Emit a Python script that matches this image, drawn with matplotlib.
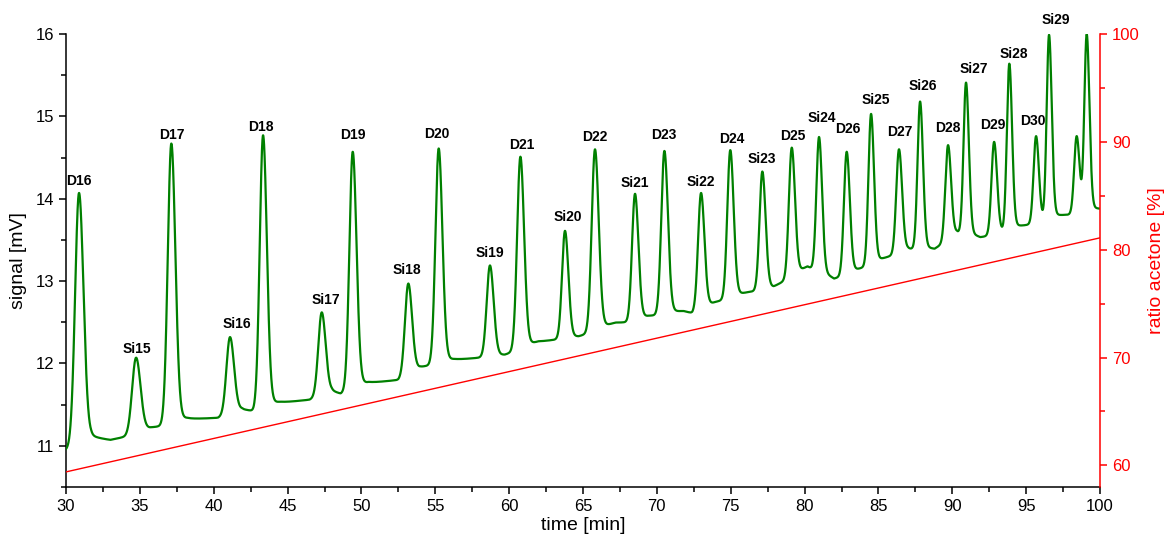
import numpy as np
import matplotlib
matplotlib.use("Agg")
import matplotlib.pyplot as plt
from matplotlib.ticker import MultipleLocator

plt.rcParams['font.family'] = ['Liberation Sans', 'DejaVu Sans']

# ---------------- data ----------------
peak_labels = ["D16", "Si15", "D17", "Si16", "D18", "Si17", "D19", "Si18",
               "D20", "Si19", "D21", "Si20", "D22", "Si21", "D23", "Si22",
               "D24", "Si23", "D25", "Si24", "D26", "Si25", "D27", "Si26",
               "D28", "Si27", "D29", "Si28", "D30", "Si29", "", ""]
peak_times = [30.88, 34.74, 37.13, 41.10, 43.34, 47.31, 49.41, 53.17,
              55.23, 58.70, 60.76, 63.78, 65.81, 68.52, 70.51, 72.99,
              74.97, 77.14, 79.13, 80.98, 82.85, 84.50, 86.39, 87.82,
              89.71, 90.93, 92.83, 93.86, 95.67, 96.55, 98.42, 99.10]
peak_heights = [14.07, 12.07, 14.67, 12.32, 14.77, 12.62, 14.57, 12.97,
                14.61, 13.19, 14.51, 13.61, 14.60, 14.06, 14.58, 14.07,
                14.59, 14.33, 14.62, 14.75, 14.57, 15.03, 14.60, 15.18,
                14.65, 15.41, 14.69, 15.64, 14.76, 15.99, 14.76, 16.00]
peak_fwhm = [0.66, 0.66, 0.60, 0.60, 0.56, 0.58, 0.56, 0.56,
             0.55, 0.55, 0.55, 0.50, 0.55, 0.50, 0.52, 0.50,
             0.50, 0.48, 0.48, 0.45, 0.46, 0.44, 0.46, 0.43,
             0.45, 0.42, 0.44, 0.41, 0.42, 0.40, 0.42, 0.40]

baseline_times = [30.0, 31.7, 33.0, 34.0, 35.8, 36.5, 38.2, 40.3, 41.9, 42.7,
                  44.5, 46.5, 48.0, 48.6, 50.5, 52.5, 54.0, 56.3, 58.0, 59.7,
                  62.0, 63.2, 64.7, 67.2, 68.0, 69.5, 71.8, 72.4, 74.0, 76.2,
                  77.9, 80.2, 82.0, 84.0, 85.7, 87.0, 88.8, 90.3, 91.9, 95.0,
                  97.6, 100.0]
baseline_values = [10.95, 11.10, 11.07, 11.11, 11.22, 11.24, 11.32, 11.34, 11.44, 11.42,
                   11.52, 11.56, 11.66, 11.63, 11.76, 11.80, 11.95, 12.04, 12.07, 12.10,
                   12.26, 12.29, 12.32, 12.49, 12.50, 12.57, 12.63, 12.61, 12.74, 12.86,
                   12.92, 13.17, 13.02, 13.16, 13.29, 13.38, 13.38, 13.58, 13.52, 13.67,
                   13.79, 13.86]

gradient_times = [30.0, 100.0]
gradient_ratio = [59.4, 81.1]

# label centre offsets from the peak apex (pixels: right, up)
label_nudge = [(0, 12), (1, 9), (1, 9), (7, 13), (-2, 8), (4, 12), (0, 17), (-1, 14),
               (-2, 14), (0, 12), (1, 12), (3, 14), (0, 12), (0, 11), (-1, 16), (0, 11),
               (2, 11), (0, 13), (1, 12), (3, 19), (1, 23), (5, 14), (1, 17), (3, 16),
               (0, 17), (8, 14), (-1, 17), (5, 10), (-3, 15), (7, 15), (0, 0), (0, 0)]

# ---------------- build trace from the peak table ----------------
t = np.linspace(30, 100, 14001)


def peak_shape(x, t0, fwhm):
    sl = 0.47 * fwhm / 1.1774
    sr = 0.53 * fwhm / 1.1774
    s = np.where(x < t0, sl, sr)
    core = np.exp(-0.5 * ((x - t0) / s) ** 2)
    d = np.clip(x - t0, 0, None)
    tail = 0.05 * np.exp(-d / 0.5) * (1 - np.exp(-0.5 * (d / sr) ** 2))
    return core + tail


pt = np.array(peak_times)
ph = np.array(peak_heights)
pw = np.array(peak_fwhm)
base_at_peaks = np.interp(pt, baseline_times, baseline_values)
G = np.array([[peak_shape(np.array([ti]), tj, wj)[0] for tj, wj in zip(pt, pw)]
              for ti in pt])
amps = np.linalg.solve(G, ph - base_at_peaks)

signal = np.interp(t, baseline_times, baseline_values)
for a, t0, w in zip(amps, pt, pw):
    signal = signal + a * peak_shape(t, t0, w)

# ---------------- figure ----------------
fig = plt.figure(figsize=(11.64, 5.40), dpi=100)
ax = fig.add_axes([66 / 1164, 1 - 487 / 540, (1100 - 66) / 1164, (487 - 34) / 540])
ax2 = ax.twinx()

green = '#008000'
red = '#FF0000'

ax.plot(t, signal, color=green, lw=1.6, zorder=3)
ax2.plot(gradient_times, gradient_ratio, color=red, lw=1.0)

ax.set_xlim(30, 100)
ax.set_ylim(10.5, 16)
ax2.set_ylim(58, 100)

ax.xaxis.set_major_locator(MultipleLocator(5))
ax.xaxis.set_minor_locator(MultipleLocator(2.5))
ax.yaxis.set_major_locator(MultipleLocator(1))
ax.yaxis.set_minor_locator(MultipleLocator(0.5))
ax2.yaxis.set_major_locator(MultipleLocator(10))
ax2.yaxis.set_minor_locator(MultipleLocator(5))

for a in (ax, ax2):
    a.spines['top'].set_visible(False)
ax.spines['right'].set_visible(False)
ax2.spines['left'].set_visible(False)
ax2.spines['bottom'].set_visible(False)
ax2.spines['right'].set_color(red)
for sp in ('left', 'bottom'):
    ax.spines[sp].set_linewidth(1.1)
ax2.spines['right'].set_linewidth(1.1)

ax.tick_params(axis='both', which='major', direction='out', length=5, width=1.1,
               labelsize=12, colors='black')
ax.tick_params(axis='both', which='minor', direction='out', length=3.5, width=1.1)
ax2.tick_params(axis='y', which='major', direction='out', length=5, width=1.1,
                labelsize=12, colors=red)
ax2.tick_params(axis='y', which='minor', direction='out', length=3.5, width=1.1, colors=red)

ax.set_xlabel('time [min]', fontsize=14, labelpad=2)
ax.set_ylabel('signal [mV]', fontsize=14, labelpad=6)
ax2.set_ylabel('ratio acetone [%]', fontsize=14, color=red, labelpad=6)

for lab, t0, h, (dx, dy) in zip(peak_labels, peak_times, peak_heights, label_nudge):
    if lab:
        ax.annotate(lab, xy=(t0, h), xytext=(dx, dy), textcoords='offset pixels',
                    ha='center', va='center', fontsize=10, fontweight='bold',
                    color='black', zorder=5, annotation_clip=False)

fig.savefig('out.png', dpi=100)
